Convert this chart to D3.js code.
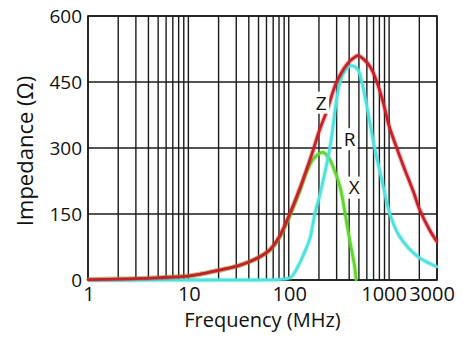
<!DOCTYPE html>
<html>
<head>
<meta charset="utf-8">
<script src="https://cdn.jsdelivr.net/npm/d3@7"></script>
<style>
  html, body { margin: 0; padding: 0; background: #fff; }
  svg { display: block; font-family: "Open Sans", "Liberation Sans", sans-serif; }
</style>
</head>
<body>
<svg id="chart" width="463" height="339"></svg>
<script>
// Impedance vs frequency of a ferrite bead: |Z|, resistive R and reactive X parts
const zFreq = [1, 2, 3, 5, 10, 13, 20, 30, 40, 50, 65, 80, 100, 130, 150, 175, 200, 240, 300, 380, 440, 490, 550, 650, 750, 870, 1000, 1200, 1400, 1750, 2000, 2500, 3000];
const zValues = [1, 2, 3, 5, 9, 13, 22, 31, 41, 51, 69, 97, 145, 210, 250, 295, 337, 385, 450, 490, 504, 510, 503, 484, 452, 405, 350, 298, 257, 200, 162, 116, 87];

const rFreq = [1, 10, 50, 80, 103, 110, 129, 145, 163, 182, 205, 257, 324, 371, 426, 489, 535, 601, 722, 848, 1018, 1281, 1936, 3000];
const rValues = [0, 0, 0, 1, 5, 11, 39, 65, 95, 150, 195, 300, 450, 478, 487, 478, 450, 394, 297, 227, 150, 98, 53, 30];

const xFreq = [1, 2, 3, 5, 10, 13, 20, 30, 40, 50, 65, 80, 100, 130, 150, 176, 200, 219, 250, 276, 324, 364, 405, 454, 470];
const xValues = [1, 2, 3, 5, 9, 13, 22, 31, 41, 51, 68, 95, 140, 205, 245, 275, 287, 290, 278, 258, 212, 152, 91, 30, 0];

const xTickLabels = [1, 10, 100, 1000, 3000];
const yTicks = [0, 150, 300, 450, 600];

const curveLabels = [
  { text: "Z", f: 210, v: 403 },
  { text: "R", f: 405, v: 320 },
  { text: "X", f: 450, v: 210 }
];

const svg = d3.select("#chart");
const plot = { left: 88, right: 437, top: 16, bottom: 280 };

const x = d3.scaleLog().domain([1, 3000]).range([plot.left, plot.right]);
const y = d3.scaleLinear().domain([0, 600]).range([plot.bottom, plot.top]);

const gridColor = "#1b1b1b";

// vertical log grid (2..9 in every decade)
svg.append("g")
  .selectAll("line")
  .data(x.ticks())
  .join("line")
  .attr("x1", d => x(d)).attr("x2", d => x(d))
  .attr("y1", plot.top).attr("y2", plot.bottom)
  .attr("stroke", gridColor).attr("stroke-width", 1.4);

// horizontal grid
svg.append("g")
  .selectAll("line")
  .data(yTicks)
  .join("line")
  .attr("x1", plot.left).attr("x2", plot.right)
  .attr("y1", d => y(d)).attr("y2", d => y(d))
  .attr("stroke", gridColor).attr("stroke-width", 1.4);

// frame
svg.append("rect")
  .attr("x", plot.left).attr("y", plot.top)
  .attr("width", plot.right - plot.left).attr("height", plot.bottom - plot.top)
  .attr("fill", "none").attr("stroke", gridColor).attr("stroke-width", 1.6);

// y tick labels
svg.append("g")
  .selectAll("text")
  .data(yTicks)
  .join("text")
  .attr("x", plot.left - 6)
  .attr("y", d => y(d))
  .attr("dy", "0.36em")
  .attr("text-anchor", "end")
  .attr("font-size", 19)
  .attr("fill", "#111")
  .text(d => d);

// x tick labels; the two crowded labels at the right end lean slightly left
const nudge = d => (d >= 1000 ? -5 : 1);
svg.append("g")
  .selectAll("text")
  .data(xTickLabels)
  .join("text")
  .attr("x", d => x(d) + nudge(d))
  .attr("y", 301)
  .attr("text-anchor", "middle")
  .attr("font-size", 20)
  .attr("fill", "#111")
  .text(d => d);

// axis titles
svg.append("text")
  .attr("x", (plot.left + plot.right) / 2)
  .attr("y", 327)
  .attr("text-anchor", "middle")
  .attr("font-size", 20)
  .attr("fill", "#111")
  .text("Frequency (MHz)");

svg.append("text")
  .attr("transform", "translate(33,151) rotate(-90)")
  .attr("text-anchor", "middle")
  .attr("font-size", 22)
  .attr("fill", "#111")
  .text("Impedance (Ω)");

// curves
const line = d3.line()
  .x(d => x(d.f))
  .y(d => Math.min(y(d.v), plot.bottom))
  .curve(d3.curveCatmullRom.alpha(0.5));

const series = [
  { freq: xFreq, values: xValues, color: "#5fd52d" },
  { freq: rFreq, values: rValues, color: "#4fe2dd" },
  { freq: zFreq, values: zValues, color: "#c91f26" }
];

series.forEach(s => {
  const pts = s.freq.map((f, i) => ({ f, v: s.values[i] }));
  svg.append("path")
    .datum(pts)
    .attr("d", line)
    .attr("fill", "none")
    .attr("stroke", s.color)
    .attr("stroke-opacity", 0.3)
    .attr("stroke-width", 5);
  svg.append("path")
    .datum(pts)
    .attr("d", line)
    .attr("fill", "none")
    .attr("stroke", s.color)
    .attr("stroke-width", 2.8)
    .attr("stroke-linecap", "round");
});

// curve name labels on white patches
const lbl = svg.append("g");
curveLabels.forEach(c => {
  const cx = x(c.f), cy = y(c.v);
  lbl.append("rect")
    .attr("x", cx - 8).attr("y", cy - 11)
    .attr("width", 16).attr("height", 22)
    .attr("fill", "#fff");
  lbl.append("text")
    .attr("x", cx).attr("y", cy)
    .attr("dy", "0.36em")
    .attr("text-anchor", "middle")
    .attr("font-size", 19)
    .attr("fill", "#111")
    .text(c.text);
});
</script>
</body>
</html>
